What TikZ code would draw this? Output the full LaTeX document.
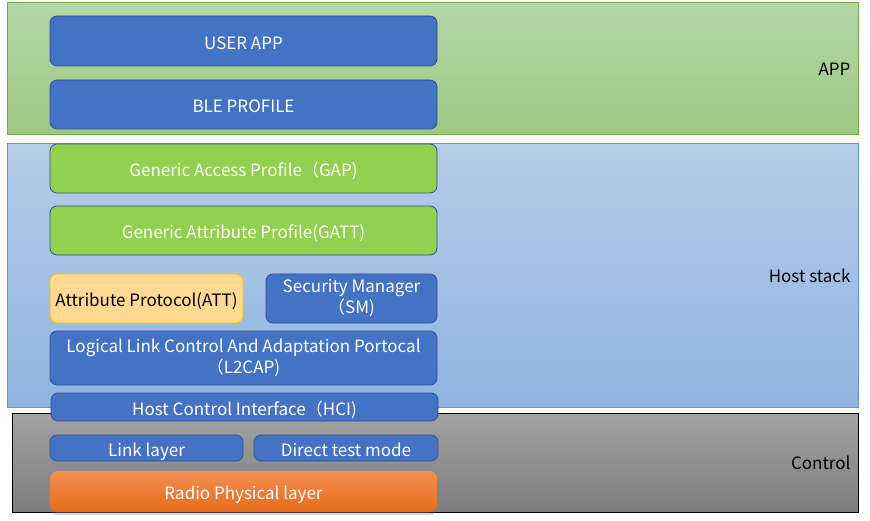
\documentclass[tikz,border=0pt]{standalone}
\usepackage{fontspec}
\newfontfamily\cjk{Noto Sans CJK SC}
\usetikzlibrary{shadows, positioning}

\definecolor{blkfill}{HTML}{4472C4}
\definecolor{blkline}{HTML}{2F528F}
\definecolor{gapfill}{HTML}{92D050}
\definecolor{attfill}{HTML}{FFD891}
\definecolor{attline}{HTML}{FFC000}
\definecolor{appline}{HTML}{70AD47}
\definecolor{hostline}{HTML}{5B9BD5}
\definecolor{radiotop}{HTML}{F28E52}
\definecolor{radiobot}{HTML}{E66C1A}

\tikzset{
    band/.style={line width=0.8pt, shading=axis, anchor=north west, inner sep=0pt},
    blk/.style={draw=blkline, fill=blkfill, rounded corners=7pt, text=white, align=center,
        inner sep=0pt, line width=0.8pt, font=\cjk\fontsize{17}{21}\selectfont,
        execute at begin node=\rule{0pt}{20pt}, execute at end node=\rule[-3.5pt]{0pt}{3.5pt}},
    greenblk/.style={blk, fill=gapfill},
    attblk/.style={blk, draw=attline, fill=attfill, text=black},
    radioblk/.style={blk, draw=none, shading=axis, top color=radiotop, bottom color=radiobot,
        drop shadow={shadow xshift=0pt, shadow yshift=-3pt, opacity=0.3}},
    bandlabel/.style={anchor=east, font=\cjk\fontsize{17}{21}\selectfont}
}

\begin{document}
\begin{tikzpicture}[x=1pt, y=-1pt]
    \useasboundingbox (0,0) rectangle (870,521);

    % layers
    \node [band, draw=appline, top color={rgb,255:red,181;green,214;blue,167}, bottom color={rgb,255:red,157;green,200;blue,131},
        minimum width=851pt, minimum height=132pt] (Lapp) at (7,2) {};
    \node [band, draw=hostline, top color={rgb,255:red,180;green,205;blue,232}, bottom color={rgb,255:red,143;green,180;blue,224},
        minimum width=851pt, minimum height=264pt] (Lhost) at (7,143) {};
    \node [band, draw=black, top color={rgb,255:red,162;green,162;blue,162}, bottom color={rgb,255:red,125;green,125;blue,125},
        minimum width=846pt, minimum height=99pt] (Lctrl) at (12,413) {};

    \node [bandlabel] (Tapp) at (854,69) {APP};
    \node [bandlabel] (Thost) at (854,276) {Host stack};
    \node [bandlabel] (Tctrl) at (854,463) {Control};

    % blocks
    \node [blk, minimum width=387pt, minimum height=50pt] (Buser) at (243.5,41) {USER APP};
    \node [blk, minimum width=387pt, minimum height=49pt] (Bble) at (243.5,104.5) {BLE PROFILE};
    \node [greenblk, minimum width=387pt, minimum height=49pt] (Bgap) at (243.5,168.5) {Generic Access Profile（GAP)};
    \node [greenblk, minimum width=387pt, minimum height=49pt] (Bgatt) at (243.5,230.5) {Generic Attribute Profile(GATT)};
    \node [attblk, minimum width=193pt, minimum height=49pt] (Batt) at (146.5,298.5) {Attribute Protocol(ATT)};
    \node [blk, minimum width=171pt, minimum height=49pt] (Bsm) at (351.5,298.5) {Security Manager\\（SM)};
    \node [blk, minimum width=387pt, minimum height=54pt] (Bl2cap) at (243.5,358) {Logical Link Control And Adaptation Portocal\\（L2CAP)};
    \node [blk, minimum width=387pt, minimum height=28pt] (Bhci) at (244.5,407) {Host Control Interface（HCI)};
    \node [blk, minimum width=193pt, minimum height=26pt] (Blink) at (146.5,448) {Link layer};
    \node [blk, minimum width=184pt, minimum height=26pt] (Bdtm) at (346,448) {Direct test mode};
    \node [radioblk, minimum width=387pt, minimum height=41pt] (Bradio) at (243.5,491.5) {Radio Physical layer};
\end{tikzpicture}
\end{document}
